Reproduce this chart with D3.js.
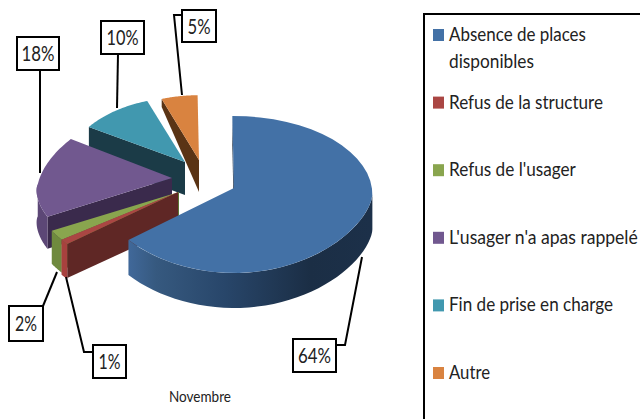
<!DOCTYPE html>
<html><head><meta charset="utf-8">
<script src="https://cdn.jsdelivr.net/npm/d3@7/dist/d3.min.js"></script>
<style>html,body{margin:0;padding:0;background:#fff;overflow:hidden}svg{display:block}text{font-family:Lato,"Open Sans",sans-serif;fill:#222}</style>
</head><body><svg id="c" width="640" height="419"></svg>
<script>
const categories = ["Absence de places disponibles","Refus de la structure","Refus de l'usager","L'usager n'a apas rappelé","Fin de prise en charge","Autre"];
const values = [64,1,2,18,10,5];
const topColors = ["#4371a6","#aa4643","#89a54e","#71588f","#4198af","#d98340"];
const cutColors = ["#1b2e45","#5f2725","#5c7534","#3a2a4c","#1b3b47","#5a3415"];
const rimColors = ["url(#blueRim)","#a8413e","#6f8a3e","#5c4776","#1b3b47","#5a3415"];

// Layout of the exploded slices (style only, not data)
const apexX = [234,178,179,172,185,199];
const apexY = [188,192,192,178,162,160];
const scaleX = [1.01,1.06,1.067,.98,.86,.85];
const scaleY = [1,1,1,1,.9,.9];
const taper = [0,0,0,.13,0,0];
const depths = [35,35,33,32,33,32];
const outerDepths = [30,34,30,32,33,8];
const paintOrder = [5,4,3,2,1,0];
const RX = 137, RY = 78.5, RY_SHIFT = 6.5;

const svg = d3.select("#c");
const defs = svg.append("defs");
const g = defs.append("linearGradient").attr("id","blueRim").attr("gradientUnits","userSpaceOnUse")
  .attr("x1",127).attr("x2",371).attr("y1",0).attr("y2",0);
[[0,"#41699b"],[.12,"#36597f"],[.4,"#28466a"],[.75,"#1b2e45"],[1,"#1c3049"]]
  .forEach(s=>g.append("stop").attr("offset",s[0]).attr("stop-color",s[1]));

const rot = -0.012;
const arcs = d3.pie().sort(null).startAngle(rot).endAngle(2*Math.PI+rot)(values);
const line = d3.line();
const pt = (i,a,dy=0)=>{
  const c = Math.cos(a), s = Math.sin(a);
  const ey = RY_SHIFT + (c>0 ? -RY*c : RY*Math.pow(-c,1.25));
  return [apexX[i]+RX*s*(scaleX[i]-taper[i]*c), apexY[i]+ey*scaleY[i]+dy];
};
const sample = (i,a0,a1,dy=0)=>d3.range(0,41).map(n=>pt(i,a0+(a1-a0)*n/40,dy));

paintOrder.forEach(i=>{
  const d = arcs[i], a0=d.startAngle, a1=d.endAngle;
  const layer = svg.append("g");
  layer.append("path").attr("fill",cutColors[i]).attr("d",line([
    pt(i,a0),[apexX[i],apexY[i]],[apexX[i],apexY[i]+depths[i]],pt(i,a0,outerDepths[i])
  ])+"Z");
  const lo=Math.max(a0,Math.PI/2), hi=Math.min(a1,3*Math.PI/2);
  if(hi>lo){
    layer.append("path").attr("fill",rimColors[i]).attr("d",
      line(sample(i,lo,hi).concat(sample(i,lo,hi,depths[i]).reverse()))+"Z");
  }
  layer.append("path").attr("fill",topColors[i]).attr("d",
    line([[apexX[i],apexY[i]]].concat(sample(i,a0,a1)))+"Z");
});

// Text squeezed horizontally to the reference's narrow letterforms
function fitText(x,y,str,size,width){
  const t = svg.append("text").attr("font-size",size).text(str);
  const w = t.node().getComputedTextLength();
  t.attr("transform",`translate(${x},${y}) scale(${width/w},1)`);
  return t;
}

// Callouts
const labelText = values.map(v=>v+"%");
const boxes = [[293,339,43,33],[93,345,33,33],[9,306,34,35],[17,37,42,33],[101,21,43,33],[182,10,34,32]];
const textW = [33,22,22,33,32,23];
const leaders = [
  [[362,257],[345,345],[336,345]],
  [[66,277],[84,352],[93,352]],
  [[57,272],[43,306]],
  [[40,173],[40,70]],
  [[117,108],[118,54]],
  [[182,95],[174,15],[182,15]]
];
leaders.forEach(p=>svg.append("path").attr("d",line(p)).attr("fill","none").attr("stroke","#000").attr("stroke-width",2));
boxes.forEach((b,i)=>{
  svg.append("rect").attr("x",b[0]).attr("y",b[1]).attr("width",b[2]).attr("height",b[3])
    .attr("fill","#fff").attr("stroke","#000").attr("stroke-width",2);
  fitText(b[0]+(b[2]-textW[i])/2,b[1]+b[3]/2+7.5,labelText[i],21,textW[i]);
});

fitText(169,402,"Novembre",15,62);

// Legend
svg.append("path").attr("d","M424,430V14H650").attr("fill","none").attr("stroke","#000").attr("stroke-width",2);
const legendLines = [["Absence de places","disponibles"],["Refus de la structure"],["Refus de l'usager"],["L'usager n'a apas rappelé"],["Fin de prise en charge"],["Autre"]];
const legendW = [[137,85],[154],[127],[189],[164],[41]];
const legendY = d3.scalePoint().domain(categories).range([35,373]);
categories.forEach((c,i)=>{
  const y=legendY(c);
  svg.append("rect").attr("x",433).attr("y",y-6).attr("width",11).attr("height",12).attr("fill",topColors[i]);
  legendLines[i].forEach((t,j)=>fitText(449,y+6+j*27,t,19.5,legendW[i][j]));
});
</script></body></html>
